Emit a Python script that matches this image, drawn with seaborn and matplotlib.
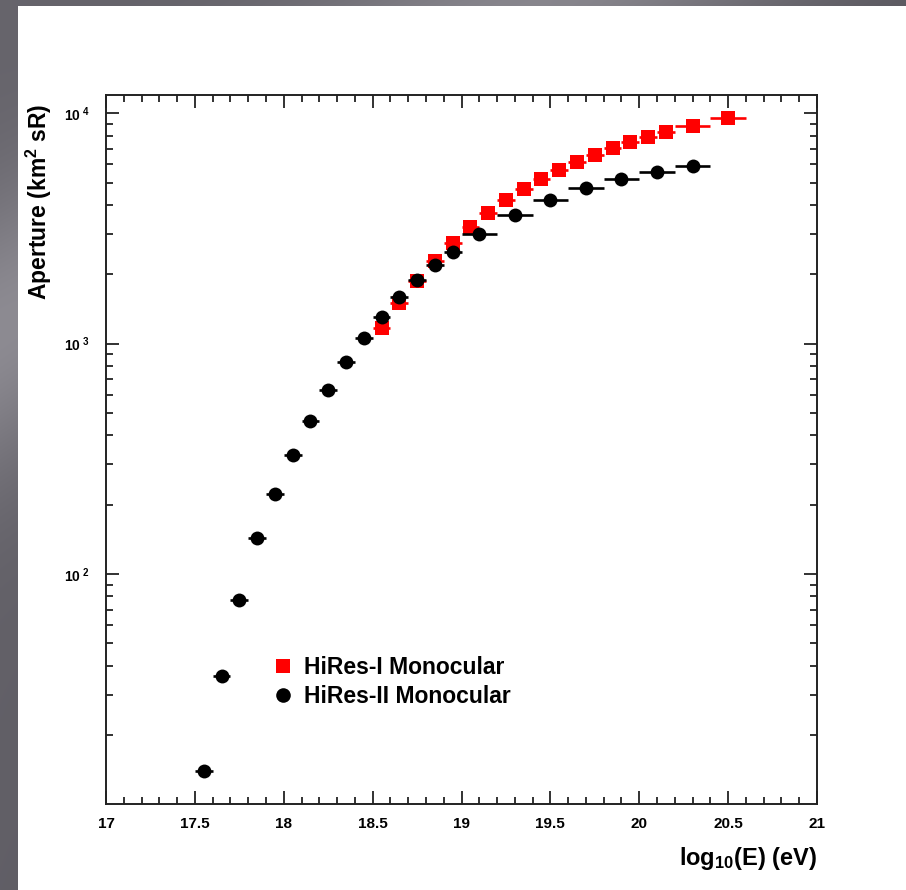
import numpy as np
import pandas as pd
import matplotlib
matplotlib.use("Agg")
import matplotlib.pyplot as plt
from matplotlib.ticker import FixedLocator, NullFormatter, FixedFormatter
from matplotlib.lines import Line2D
import seaborn as sns

# HiRes-I monocular aperture
hires1_label = "HiRes-I Monocular"
hires1_logE = [18.55, 18.65, 18.75, 18.85, 18.95, 19.05, 19.15, 19.25, 19.35,
               19.45, 19.55, 19.65, 19.75, 19.85, 19.95, 20.05, 20.15, 20.3, 20.5]
hires1_halfwidth = [0.05, 0.05, 0.05, 0.05, 0.05, 0.05, 0.05, 0.05, 0.05,
                    0.05, 0.05, 0.05, 0.05, 0.05, 0.05, 0.05, 0.05, 0.1, 0.1]
hires1_aperture = [1167, 1508, 1870, 2294, 2729, 3221, 3683, 4194, 4680,
                   5188, 5675, 6146, 6613, 7072, 7509, 7893, 8272, 8780, 9572]

# HiRes-II monocular aperture
hires2_label = "HiRes-II Monocular"
hires2_logE = [17.55, 17.65, 17.75, 17.85, 17.95, 18.05, 18.15, 18.25, 18.35,
               18.45, 18.55, 18.65, 18.75, 18.85, 18.95,
               19.1, 19.3, 19.5, 19.7, 19.9, 20.1, 20.3]
hires2_halfwidth = [0.05, 0.05, 0.05, 0.05, 0.05, 0.05, 0.05, 0.05, 0.05,
                    0.05, 0.05, 0.05, 0.05, 0.05, 0.05,
                    0.1, 0.1, 0.1, 0.1, 0.1, 0.1, 0.1]
hires2_aperture = [14.0, 36.0, 76.9, 143.8, 223, 329, 462, 630, 834,
                   1063, 1311, 1592, 1891, 2191, 2509,
                   3004, 3622, 4206, 4727, 5172, 5580, 5905]

x_ticks = [17, 17.5, 18, 18.5, 19, 19.5, 20, 20.5, 21]
x_ticklabels = ["17", "17.5", "18", "18.5", "19", "19.5", "20", "20.5", "21"]
y_ticks = [100, 1000, 10000]
y_ticklabels = [r"$\mathbf{10^{\ 2}}$", r"$\mathbf{10^{\ 3}}$", r"$\mathbf{10^{\ 4}}$"]

df1 = pd.DataFrame({"logE": hires1_logE, "dlogE": hires1_halfwidth,
                    "aperture": hires1_aperture, "series": hires1_label})
df2 = pd.DataFrame({"logE": hires2_logE, "dlogE": hires2_halfwidth,
                    "aperture": hires2_aperture, "series": hires2_label})

sns.set_theme(style="ticks")
plt.rcParams["font.family"] = ["Liberation Sans", "DejaVu Sans"]
plt.rcParams["mathtext.fontset"] = "custom"
plt.rcParams["mathtext.rm"] = "Liberation Sans"
plt.rcParams["mathtext.bf"] = "Liberation Sans:bold"
plt.rcParams["mathtext.it"] = "Liberation Sans:italic"
plt.rcParams["text.color"] = "black"
plt.rcParams["axes.labelcolor"] = "black"
plt.rcParams["xtick.labelcolor"] = "black"
plt.rcParams["ytick.labelcolor"] = "black"

W, H = 906, 890
fig = plt.figure(figsize=(W / 100, H / 100), dpi=100)

# slide backdrop: grey frame on the left and top, white page
bg = fig.add_axes([0, 0, 1, 1], zorder=-10)
yy, xx = np.mgrid[0:H, 0:W]
grey = 0.40 - 0.05 * (xx / W) - 0.02 * (yy / H)
streak = 0.16 * np.exp(-((yy - 330 + 0.6 * xx) / 140.0) ** 2)
grey = grey + streak
img = np.ones((H, W, 3))
frame = (xx < 18) | (yy < 6)
for c, tint in enumerate([0.0, -0.008, 0.02]):
    chan = img[:, :, c]
    chan[frame] = np.clip(grey[frame] + tint, 0, 1)
bg.imshow(img, extent=[0, W, H, 0], aspect="auto", interpolation="bilinear")
bg.set_axis_off()

ax = fig.add_axes([106 / W, 1 - 804 / H, 711 / W, 709 / H])
ax.set_facecolor("white")

red = "#ff0000"
ax.errorbar(df1["logE"], df1["aperture"], xerr=df1["dlogE"], fmt="none",
            ecolor=red, elinewidth=1.9, capsize=0, zorder=2)
sns.scatterplot(data=df1, x="logE", y="aperture", marker="s", color=red,
                s=92, linewidth=0, ax=ax, zorder=3, legend=False)
ax.errorbar(df2["logE"], df2["aperture"], xerr=df2["dlogE"], fmt="none",
            ecolor="black", elinewidth=1.9, capsize=0, zorder=4)
sns.scatterplot(data=df2, x="logE", y="aperture", marker="o", color="black",
                s=100, linewidth=0, ax=ax, zorder=5, legend=False)

ax.set_yscale("log")
ax.set_xlim(17, 21)
ax.set_ylim(10.05, 12000)

ax.xaxis.set_major_locator(FixedLocator(x_ticks))
ax.xaxis.set_major_formatter(FixedFormatter(x_ticklabels))
ax.xaxis.set_minor_locator(FixedLocator(np.round(np.arange(17, 21.001, 0.1), 2)))
ax.yaxis.set_major_locator(FixedLocator(y_ticks))
ax.yaxis.set_major_formatter(FixedFormatter(y_ticklabels))
minor_y = [m * d for d in (10, 100, 1000) for m in range(2, 10)] + [20000]
ax.yaxis.set_minor_locator(FixedLocator(minor_y))
ax.yaxis.set_minor_formatter(NullFormatter())

ax.tick_params(which="both", direction="in", top=True, right=True,
               color="#222222", width=1.3)
ax.tick_params(which="major", length=9.5)
ax.tick_params(which="minor", length=5)
ax.tick_params(axis="x", which="major", labelsize=11, pad=9)
ax.tick_params(axis="y", which="major", labelsize=10, pad=12)
for lab in ax.get_xticklabels():
    lab.set_fontweight("bold")
for sp in ax.spines.values():
    sp.set_linewidth(1.4)
    sp.set_color("#222222")

ax.set_xlabel(r"log$_{\mathbf{10}}$(E) (eV)", fontsize=17, fontweight="bold",
              ha="right", labelpad=0)
ax.xaxis.set_label_coords(1.0, -0.058)
ax.set_ylabel(r"Aperture (km$^{\mathbf{2}}$ sR)", fontsize=16.5, fontweight="bold",
              ha="right")
ax.yaxis.set_label_coords(-0.073, 0.988)

handles = [
    Line2D([], [], marker="s", color=red, linestyle="none", markersize=10,
           markeredgewidth=0),
    Line2D([], [], marker="o", color="black", linestyle="none", markersize=10.5,
           markeredgewidth=0),
]
ax.legend(handles, [hires1_label, hires2_label], loc="upper left",
          bbox_to_anchor=(0.233, 0.209), frameon=False,
          prop={"weight": "bold", "size": 16.5}, handlelength=1.0,
          handletextpad=0.4, labelspacing=0.28, borderpad=0, borderaxespad=0)

fig.savefig("out.png", dpi=100)
